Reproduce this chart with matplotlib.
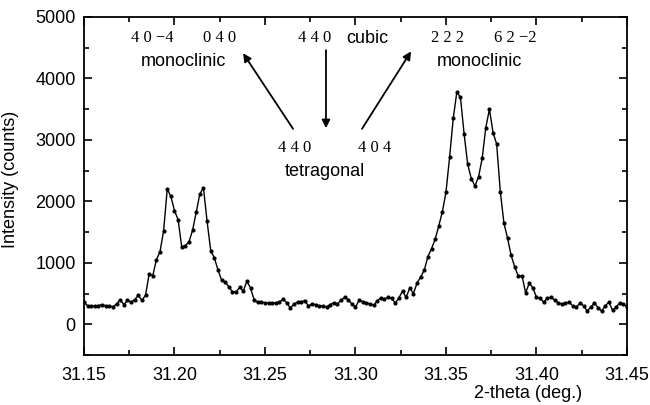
import numpy as np
from matplotlib import pyplot as plt
from matplotlib.ticker import MultipleLocator

plt.rcParams['font.family'] = ['Liberation Sans', 'DejaVu Sans']

## Scan data: 2-theta from 31.15 to 31.45 deg, step 0.002 deg
theta_start = 31.15
theta_end = 31.45
counts = [360, 300, 290, 300, 305, 320, 300, 295, 285, 330,
          400, 320, 390, 360, 400, 470, 390, 470, 820, 790,
          1050, 1180, 1520, 2200, 2080, 1850, 1700, 1260, 1280, 1340,
          1530, 1820, 2120, 2220, 1680, 1200, 1080, 890, 720, 690,
          610, 530, 525, 600, 540, 700, 590, 400, 360, 360,
          350, 345, 340, 350, 360, 410, 350, 265, 330, 360,
          370, 380, 300, 330, 320, 290, 300, 280, 320, 350,
          330, 390, 440, 400, 330, 280, 390, 370, 350, 330,
          310, 380, 430, 410, 440, 420, 345, 430, 540, 440,
          590, 500, 670, 770, 880, 1100, 1230, 1380, 1600, 1830,
          2150, 2720, 3350, 3780, 3690, 3100, 2600, 2370, 2250, 2400,
          2700, 3200, 3500, 3120, 2930, 2160, 1650, 1400, 1120, 930,
          780, 790, 510, 670, 590, 440, 425, 360, 425, 440,
          395, 350, 330, 345, 360, 300, 280, 345, 300, 215,
          280, 345, 270, 215, 300, 360, 230, 280, 345, 330,
          280]
theta = np.linspace(theta_start, theta_end, len(counts))

x_ticks = [31.15, 31.20, 31.25, 31.30, 31.35, 31.40, 31.45]
y_ticks = [0, 1000, 2000, 3000, 4000, 5000]

# annotation text: (label, x, y, serif?)
labels = [("4 0 \u22124", 31.1876, 4655, True),
          ("0 4 0", 31.2250, 4655, True),
          ("monoclinic", 31.2047, 4280, False),
          ("4 4 0", 31.2775, 4655, True),
          ("cubic", 31.3068, 4655, False),
          ("4 4 0", 31.2666, 2860, True),
          ("4 0 4", 31.3108, 2860, True),
          ("tetragonal", 31.2831, 2480, False),
          ("2 2 2", 31.3506, 4655, True),
          ("6 2 \u22122", 31.3881, 4655, True),
          ("monoclinic", 31.3683, 4280, False)]
# arrows: (tail x, tail y, head x, head y)
arrows = [(31.2655, 3180, 31.2379, 4410),
          (31.2837, 4460, 31.2837, 3190),
          (31.3036, 3180, 31.3307, 4440)]

if __name__ == "__main__":
	f = plt.figure(figsize=(6.5, 4.05), dpi=100)
	ax = f.add_axes([0.1292, 0.1235, 0.8354, 0.8346])
	ax.plot(theta, counts, color="black", linewidth=1.0, marker="o", markersize=2.0)

	ax.set_xlim(31.15, 31.45)
	ax.set_ylim(-500, 5000)
	ax.set_xticks(x_ticks)
	ax.set_xticklabels(["%.2f" % t for t in x_ticks])
	ax.set_yticks(y_ticks)
	ax.xaxis.set_minor_locator(MultipleLocator(0.025))
	ax.yaxis.set_minor_locator(MultipleLocator(500))
	ax.tick_params(which="both", direction="in", top=True, right=True,
		labelsize=13, width=1.2)
	ax.tick_params(axis="x", which="both", pad=9)
	ax.tick_params(axis="y", which="both", pad=6)
	ax.tick_params(which="major", length=6)
	ax.tick_params(which="minor", length=3.5)
	for s in ax.spines.values():
		s.set_linewidth(1.3)

	ax.set_xlabel("2-theta (deg.)", fontsize=13)
	ax.xaxis.set_label_coords(0.818, -0.09)
	ax.set_ylabel("Intensity (counts)", fontsize=13)
	ax.yaxis.set_label_coords(-0.12, 0.52)

	for txt, x, y, serif in labels:
		if serif:
			ax.text(x, y, txt, ha="center", va="center", fontsize=12,
				family=["Liberation Serif", "DejaVu Serif"])
		else:
			ax.text(x, y, txt, ha="center", va="center", fontsize=13)

	for x0, y0, x1, y1 in arrows:
		ax.annotate("", xy=(x1, y1), xytext=(x0, y0),
			arrowprops=dict(arrowstyle="-|>", color="black", lw=1.3,
				mutation_scale=12, shrinkA=0, shrinkB=0))

	f.savefig("out.png", dpi=100)
